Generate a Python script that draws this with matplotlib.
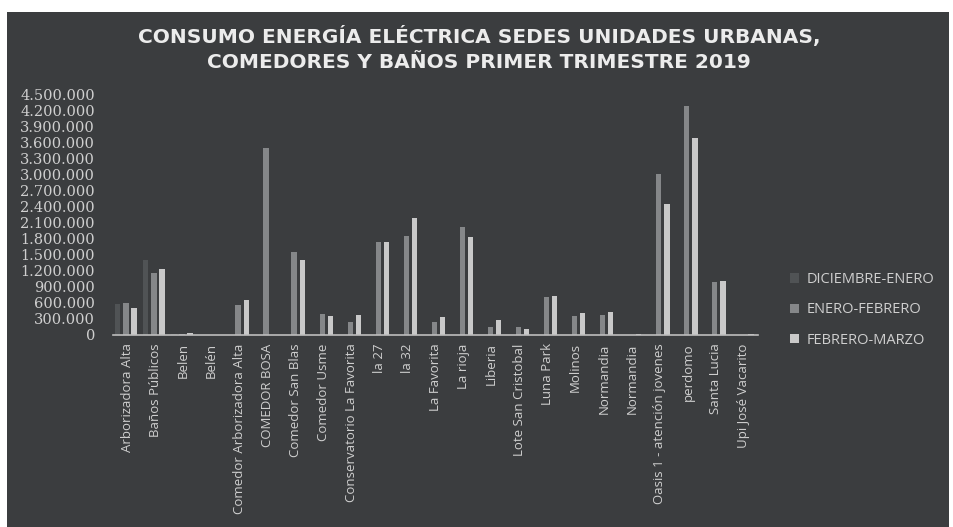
import numpy as np
import matplotlib
matplotlib.use("Agg")
import matplotlib.pyplot as plt
from matplotlib.patches import Rectangle
from matplotlib.ticker import FuncFormatter, MultipleLocator

# Data (kWh-like units)
sedes = ["Arborizadora Alta", "Baños Públicos", "Belen", "Belén",
         "Comedor Arborizadora Alta", "COMEDOR BOSA", "Comedor San Blas",
         "Comedor Usme", "Conservatorio La Favorita", "la 27", "la 32",
         "La Favorita", "La rioja", "Liberia", "Lote San Cristobal",
         "Luna Park", "Molinos", "Normandia", "Normandia",
         "Oasis 1 - atención jovenes", "perdomo", "Santa Lucia",
         "Upi José Vacarito"]
dic_ene = [580000, 1410000, 10000, 0, 0, 0, 0, 0, 0, 0, 0, 0, 0, 0, 0,
           0, 0, 0, 0, 0, 0, 0, 0]
ene_feb = [600000, 1170000, 20000, 0, 560000, 3500000, 1560000, 400000,
           240000, 1740000, 1860000, 250000, 2020000, 150000, 150000,
           720000, 360000, 380000, 0, 3020000, 4300000, 990000, 0]
feb_mar = [510000, 1240000, 40000, 0, 660000, 0, 1400000, 360000,
           370000, 1740000, 2190000, 330000, 1840000, 290000, 110000,
           730000, 410000, 430000, 20000, 2460000, 3690000, 1010000, 20000]
series_names = ["DICIEMBRE-ENERO", "ENERO-FEBRERO", "FEBRERO-MARZO"]

BG = "#3b3d3f"
TXT = "#cfcfcf"
colors = ["#505355", "#858789", "#c9c9c9"]

fig = plt.figure(figsize=(9.54, 5.27), dpi=100, facecolor="white")
fig.patches.append(Rectangle((7 / 954, 0), 942 / 954, 515 / 527,
                             transform=fig.transFigure, facecolor=BG,
                             edgecolor="none", zorder=-5))

ax = fig.add_axes([113 / 954, 192 / 527, 645 / 954, 240 / 527])
ax.set_facecolor("none")

x = np.arange(len(sedes))
w = 0.19
offsets = [-0.33, -0.04, 0.25]
for vals, off, c, name in zip([dic_ene, ene_feb, feb_mar], offsets, colors, series_names):
    ax.bar(x + off, vals, width=w, color=c, label=name, zorder=2)

ax.set_xlim(-0.5, len(sedes) - 0.5)
ax.set_ylim(0, 4500000)
ax.yaxis.set_major_locator(MultipleLocator(300000))
ax.yaxis.set_major_formatter(FuncFormatter(lambda v, p: f"{int(v):,}".replace(",", ".")))

for s in ["top", "right", "left"]:
    ax.spines[s].set_visible(False)
ax.spines["bottom"].set_color("#bdbdbd")
ax.spines["bottom"].set_linewidth(1.2)

ax.set_xticks(x)
ax.set_xticklabels(sedes, rotation=90, fontsize=9.5, color=TXT, family="Open Sans")
ax.tick_params(axis="x", length=0, pad=6)
ax.tick_params(axis="y", length=0, pad=13, labelsize=10.5, labelcolor=TXT)
for t in ax.get_yticklabels():
    t.set_family("DejaVu Serif")

fig.text(479 / 954, 1 - 49 / 527,
         "CONSUMO ENERGÍA ELÉCTRICA SEDES UNIDADES URBANAS,\nCOMEDORES Y BAÑOS PRIMER TRIMESTRE 2019",
         ha="center", va="center", fontsize=14.5, fontweight="bold",
         color="#ececec", linespacing=1.35, family="DejaVu Sans")

leg = ax.legend(loc="upper left", bbox_to_anchor=(1.05, 0.262), frameon=False,
                fontsize=10.5, labelcolor=TXT, handlelength=0.6, handleheight=0.6,
                handletextpad=0.55, labelspacing=1.05, borderaxespad=0,
                borderpad=0)
for txt in leg.get_texts():
    txt.set_family("Open Sans")

fig.savefig("out.png", dpi=100, facecolor=fig.get_facecolor())
